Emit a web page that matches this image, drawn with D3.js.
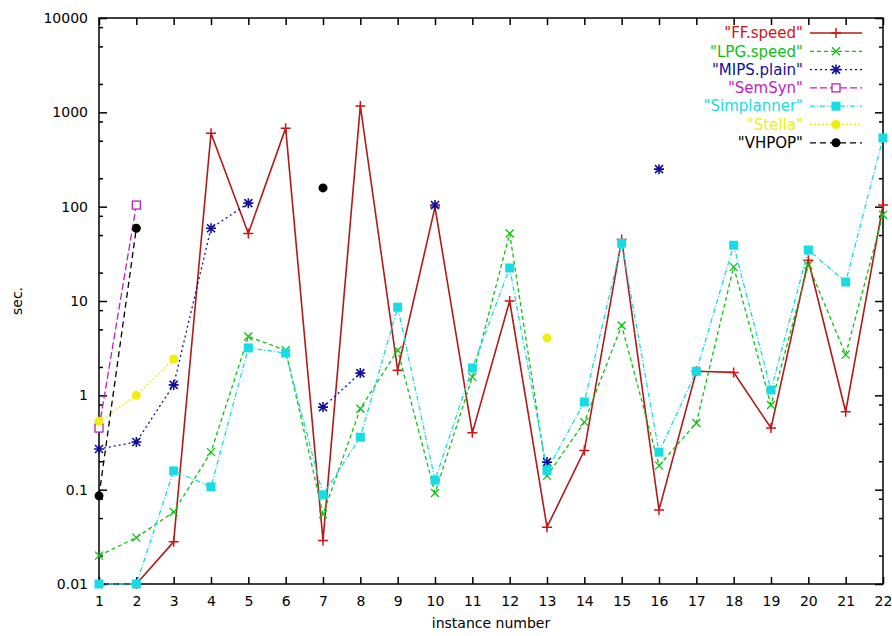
<!DOCTYPE html>
<html>
<head>
<meta charset="utf-8">
<script src="https://cdn.jsdelivr.net/npm/d3@7"></script>
<style>
  body { margin: 0; background: #fff; }
  text { font-family: "DejaVu Sans", sans-serif; fill: #000; }
</style>
</head>
<body>
<div id="chart"></div>
<script>
// instance numbers on the x axis
var instances = d3.range(1, 23);

// seconds per planner, null = no result
var ffSpeed     = [null, 0.01, 0.028, 600, 52, 680, 0.029, 1170, 1.85, 99, 0.40, 10, 0.040, 0.26, 45, 0.061, 1.8, 1.75, 0.45, 27, 0.67, 104];
var lpgSpeed    = [0.02, 0.031, 0.058, 0.25, 4.2, 3.0, 0.055, 0.72, 3.0, 0.092, 1.56, 52, 0.14, 0.52, 5.5, 0.18, 0.51, 23, 0.79, 24, 2.7, 82];
var mipsPlain   = [0.27, 0.32, 1.29, 59, 109, null, 0.75, 1.72, null, 104, null, null, 0.196, null, null, 250, null, null, null, null, null, null];
var semSyn      = [0.45, 104, null, null, null, null, null, null, null, null, null, null, null, null, null, null, null, null, null, null, null, null];
var simplanner  = [0.01, 0.01, 0.158, 0.107, 3.18, 2.81, 0.088, 0.36, 8.6, 0.126, 1.95, 22.4, 0.16, 0.85, 41, 0.25, 1.8, 39, 1.14, 34.7, 15.9, 535];
var stella      = [0.53, 1.0, 2.43, null, null, null, null, null, null, null, null, null, 4.05, null, null, null, null, null, null, null, null, null];
var vhpop       = [0.086, 59, null, null, null, null, 158, null, null, null, null, null, null, null, null, null, null, null, null, null, null, null];

var seriesNames = ['"FF.speed"', '"LPG.speed"', '"MIPS.plain"', '"SemSyn"', '"Simplanner"', '"Stella"', '"VHPOP"'];
var yMajor = [0.01, 0.1, 1, 10, 100, 1000, 10000];

var series = [
  { name: seriesNames[0], values: ffSpeed,    color: "#d01414", lineColor: "#b01a1a", dash: null,      mark: "plus" },
  { name: seriesNames[1], values: lpgSpeed,   color: "#10c010", lineColor: "#10c010", dash: "4,3",     mark: "cross" },
  { name: seriesNames[2], values: mipsPlain,  color: "#10109a", lineColor: "#10109a", dash: "2,3",     mark: "star" },
  { name: seriesNames[3], values: semSyn,     color: "#c020c0", lineColor: "#c020c0", dash: "7,3",     mark: "box" },
  { name: seriesNames[4], values: simplanner, color: "#18dce4", lineColor: "#18dce4", dash: "5,2,1,2", mark: "fbox" },
  { name: seriesNames[5], values: stella,     color: "#eeee10", lineColor: "#eeee10", dash: "2,2",     mark: "dot" },
  { name: seriesNames[6], values: vhpop,      color: "#000000", lineColor: "#000000", dash: "6,4",     mark: "dot" }
];

var width = 892, height = 636;
var margin = { top: 18, right: 9, bottom: 52, left: 99 };

var svg = d3.select("#chart").append("svg")
    .attr("width", width)
    .attr("height", height);

var x = d3.scaleLinear()
    .domain([1, 22])
    .range([margin.left, width - margin.right]);
var y = d3.scaleLog()
    .domain([0.01, 10000])
    .range([height - margin.bottom, margin.top]);

// minor ticks at 2, 5 and 8 of each decade
var yMinor = [];
yMajor.slice(0, -1).forEach(function (d) {
    [2, 5, 8].forEach(function (m) { yMinor.push(d * m); });
});

var x0 = x.range()[0], x1 = x.range()[1];
var y0 = y.range()[0], y1 = y.range()[1];

function styleAxis(g) {
    g.select(".domain").remove();
    g.selectAll(".tick line").attr("stroke", "#000").attr("stroke-width", 1.5);
    g.selectAll(".tick text").style("font-size", "14px").style("font-family", "DejaVu Sans, sans-serif");
}

// bottom axis with labels, top axis mirrored
svg.append("g")
    .attr("transform", "translate(0," + y0 + ")")
    .call(d3.axisBottom(x).tickValues(instances).tickSize(-7).tickPadding(12).tickFormat(d3.format("d")))
    .call(styleAxis);
svg.append("g")
    .attr("transform", "translate(0," + y1 + ")")
    .call(d3.axisTop(x).tickValues(instances).tickSize(-7).tickFormat(""))
    .call(styleAxis);

// left axis with labels
svg.append("g")
    .attr("transform", "translate(" + x0 + ",0)")
    .call(d3.axisLeft(y).tickValues(yMajor).tickSize(-8).tickPadding(11).tickFormat(d3.format("~g")))
    .call(styleAxis);
svg.append("g")
    .attr("transform", "translate(" + x0 + ",0)")
    .call(d3.axisLeft(y).tickValues(yMinor).tickSize(-4).tickFormat(""))
    .call(styleAxis);
// right axis mirrored
svg.append("g")
    .attr("transform", "translate(" + x1 + ",0)")
    .call(d3.axisRight(y).tickValues(yMajor).tickSize(-8).tickFormat(""))
    .call(styleAxis);
svg.append("g")
    .attr("transform", "translate(" + x1 + ",0)")
    .call(d3.axisRight(y).tickValues(yMinor).tickSize(-4).tickFormat(""))
    .call(styleAxis);

// frame
svg.append("rect")
    .attr("x", x0).attr("y", y1)
    .attr("width", x1 - x0).attr("height", y0 - y1)
    .attr("fill", "none")
    .attr("stroke", "#000")
    .attr("stroke-width", 1.5);

// axis titles
svg.append("text")
    .attr("x", (x0 + x1) / 2)
    .attr("y", 628)
    .attr("text-anchor", "middle")
    .style("font-size", "14px")
    .text("instance number");
svg.append("text")
    .attr("transform", "translate(22," + y(10) + ") rotate(-90)")
    .attr("text-anchor", "middle")
    .style("font-size", "14px")
    .text("sec.");

// point symbols
function drawMark(g, type, color) {
    if (type === "plus") {
        g.append("path").attr("d", "M-5,0H5M0,-5V5").attr("stroke", color).attr("stroke-width", 1.5).attr("fill", "none");
    } else if (type === "cross") {
        g.append("path").attr("d", "M-4,-4L4,4M-4,4L4,-4").attr("stroke", color).attr("stroke-width", 1.3).attr("fill", "none");
    } else if (type === "star") {
        g.append("path").attr("d", "M-5,0H5M0,-5V5M-4,-4L4,4M-4,4L4,-4").attr("stroke", color).attr("stroke-width", 1.6).attr("fill", "none");
    } else if (type === "box") {
        g.append("rect").attr("x", -4).attr("y", -4).attr("width", 8).attr("height", 8)
            .attr("fill", "#fff").attr("stroke", color).attr("stroke-width", 1.3);
    } else if (type === "fbox") {
        g.append("rect").attr("x", -4.5).attr("y", -4.5).attr("width", 9).attr("height", 9).attr("fill", color);
    } else {
        g.append("circle").attr("r", 4.5).attr("fill", color);
    }
}

var line = d3.line()
    .defined(function (d) { return d.v != null; })
    .x(function (d) { return x(d.i); })
    .y(function (d) { return y(d.v); });

series.forEach(function (s) {
    var pts = instances.map(function (i, k) { return { i: i, v: s.values[k] }; });
    svg.append("path")
        .datum(pts)
        .attr("fill", "none")
        .attr("stroke", s.lineColor)
        .attr("stroke-width", s.dash ? 1.3 : 1.6)
        .attr("stroke-dasharray", s.dash)
        .attr("d", line);
    svg.selectAll(null)
        .data(pts.filter(function (d) { return d.v != null; }))
        .enter().append("g")
        .attr("transform", function (d) { return "translate(" + x(d.i) + "," + y(d.v) + ")"; })
        .each(function () { drawMark(d3.select(this), s.mark, s.color); });
});

// legend, top right
var legend = svg.append("g");
series.forEach(function (s, k) {
    var ly = 33 + k * 18.3;
    legend.append("text")
        .attr("x", 803)
        .attr("y", ly)
        .attr("dy", "0.35em")
        .attr("text-anchor", "end")
        .style("font-size", "15px")
        .style("fill", s.color)
        .text(s.name);
    legend.append("line")
        .attr("x1", 810).attr("x2", 862)
        .attr("y1", ly).attr("y2", ly)
        .attr("stroke", s.lineColor)
        .attr("stroke-width", s.dash ? 1.3 : 1.6)
        .attr("stroke-dasharray", s.dash);
    drawMark(legend.append("g").attr("transform", "translate(836," + ly + ")"), s.mark, s.color);
});
</script>
</body>
</html>
